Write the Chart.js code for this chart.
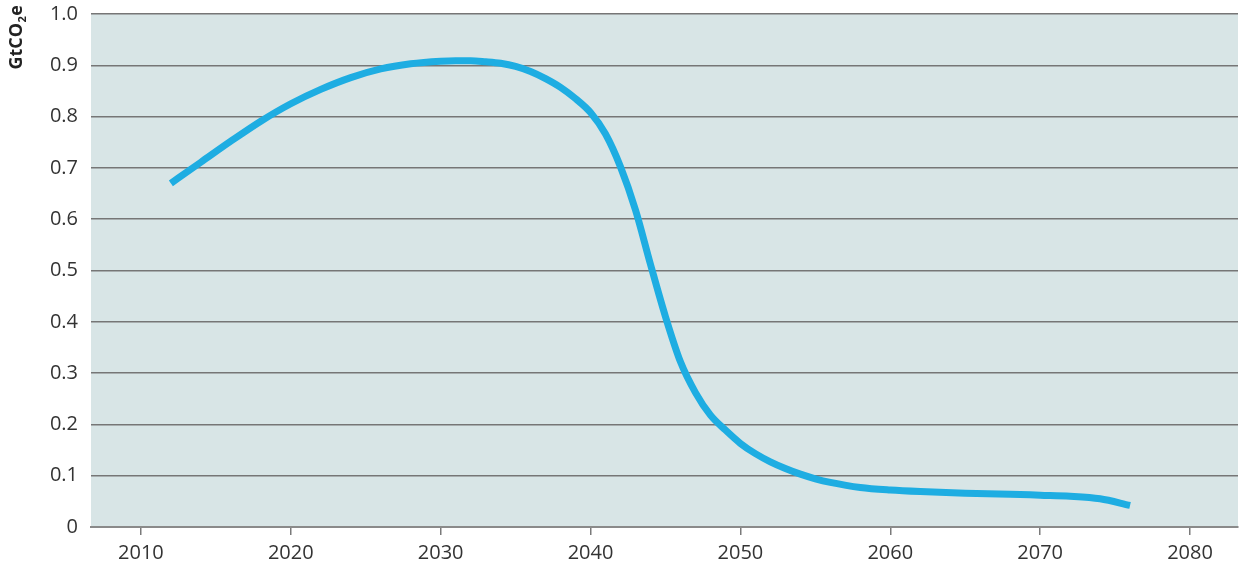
<!DOCTYPE html>
<html>
<head>
<meta charset="utf-8">
<script src="https://cdn.jsdelivr.net/npm/chart.js@4/dist/chart.umd.min.js"></script>
<style>
  html, body { margin: 0; padding: 0; background: #ffffff; }
  #wrap { width: 1244px; height: 574px; position: relative; }
</style>
</head>
<body>
<div id="wrap"><canvas id="c" width="1244" height="574"></canvas></div>
<script>
// ---- Data ----
const years = [2012, 2014, 2016, 2018, 2020, 2022, 2024, 2026, 2028, 2030, 2031, 2032, 2033,
  2034, 2035, 2036, 2037, 2038, 2039, 2040, 2041, 2042, 2043, 2044, 2045, 2046, 2047, 2048, 2049, 2050,
  2051, 2052, 2053, 2054, 2055, 2056, 2058, 2060, 2062, 2065, 2068, 2070, 2072, 2074, 2076];
const emissions = [0.670, 0.711, 0.752, 0.791, 0.825, 0.853, 0.876, 0.893, 0.903, 0.908, 0.909, 0.909, 0.907,
  0.904, 0.898, 0.888, 0.874, 0.857, 0.835, 0.808, 0.766, 0.702, 0.618, 0.512, 0.410, 0.322, 0.262, 0.218, 0.189, 0.163,
  0.143, 0.127, 0.114, 0.103, 0.094, 0.087, 0.077, 0.072, 0.069, 0.066, 0.064, 0.062, 0.060, 0.055, 0.042];
const xTickYears = [2010, 2020, 2030, 2040, 2050, 2060, 2070, 2080];
const yTickValues = [0, 0.1, 0.2, 0.3, 0.4, 0.5, 0.6, 0.7, 0.8, 0.9, 1.0];
const yAxisTitle = ['GtCO', '2', 'e'];

const FONT = '"Open Sans", "Liberation Sans", sans-serif';

const plotBg = {
  id: 'plotBg',
  beforeDraw(chart) {
    const { ctx, chartArea: a } = chart;
    ctx.save();
    ctx.fillStyle = '#d8e5e6';
    ctx.fillRect(a.left, a.top, a.right - a.left, a.bottom - a.top);
    ctx.restore();
  }
};

const yTitle = {
  id: 'yTitle',
  afterDraw(chart) {
    const { ctx } = chart;
    ctx.save();
    ctx.translate(17, 5);
    ctx.rotate(-Math.PI / 2);
    ctx.fillStyle = '#222222';
    ctx.textBaseline = 'middle';
    const big = 'bold 18px ' + FONT;
    const small = 'bold 11px ' + FONT;
    ctx.font = big;
    const w1 = ctx.measureText(yAxisTitle[0]).width;
    const w3 = ctx.measureText(yAxisTitle[2]).width;
    ctx.font = small;
    const w2 = ctx.measureText(yAxisTitle[1]).width;
    const total = w1 + w2 + w3 + 1;
    let x = -total;
    ctx.textAlign = 'left';
    ctx.font = big;
    ctx.fillText(yAxisTitle[0], x, 0);
    x += w1;
    ctx.font = small;
    ctx.fillText(yAxisTitle[1], x + 0.5, 6);
    x += w2 + 1;
    ctx.font = big;
    ctx.fillText(yAxisTitle[2], x, 0);
    ctx.restore();
  }
};

new Chart(document.getElementById('c'), {
  type: 'line',
  data: {
    datasets: [{
      data: years.map((y, i) => ({ x: y, y: emissions[i] })),
      borderColor: '#1eade2',
      borderWidth: 7,
      borderCapStyle: 'butt',
      pointRadius: 0,
      fill: false,
      cubicInterpolationMode: 'monotone'
    }]
  },
  options: {
    responsive: false,
    animation: false,
    layout: { padding: { top: 14, right: 6, left: 0, bottom: 0 } },
    plugins: { legend: { display: false }, tooltip: { enabled: false } },
    scales: {
      x: {
        type: 'linear',
        min: 2006.67,
        max: 2083.2,
        afterBuildTicks(scale) { scale.ticks = xTickYears.map(v => ({ value: v })); },
        afterFit(scale) { scale.height = 47; scale.paddingLeft = 0; scale.paddingRight = 0; },
        grid: { drawOnChartArea: false, drawTicks: true, tickLength: 8, color: '#7a7a7a', lineWidth: 1.5 },
        border: { display: true, color: '#8a8a8a', width: 2 },
        ticks: {
          padding: 6,
          color: '#333333',
          font: { family: FONT, size: 20 },
          maxRotation: 0,
          callback: v => String(v)
        }
      },
      y: {
        min: 0,
        max: 1,
        afterBuildTicks(scale) { scale.ticks = yTickValues.map(v => ({ value: v })); },
        afterFit(scale) { scale.width = 91; scale.paddingTop = 0; scale.paddingBottom = 0; },
        grid: { drawOnChartArea: true, drawTicks: false, color: '#767676', lineWidth: 1.5 },
        border: { display: false },
        ticks: {
          padding: 13,
          color: '#333333',
          font: { family: FONT, size: 20 },
          callback: v => (v === 0 ? '0' : v.toFixed(1))
        }
      }
    }
  },
  plugins: [plotBg, yTitle]
});
</script>
</body>
</html>
